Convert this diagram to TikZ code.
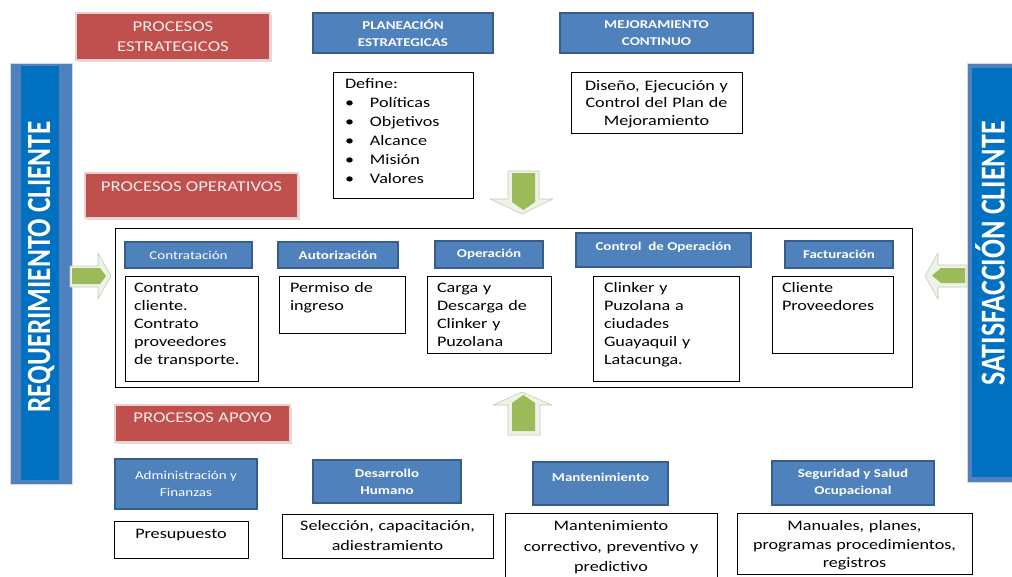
\documentclass[tikz,border=0pt]{standalone}
\usepackage{fontspec}
\setmainfont{Carlito}[FakeStretch=1.25]
\newfontfamily\barfont{Carlito}[FakeStretch=0.8]
\usetikzlibrary{shadows}

\definecolor{rojoproc}{HTML}{C0504D}
\definecolor{rojoborde}{HTML}{EBCFCE}
\definecolor{rojotexto}{HTML}{FBEAEA}
\definecolor{azulproc}{HTML}{4F81BD}
\definecolor{azulborde}{HTML}{385D8A}
\definecolor{azulbarra}{HTML}{0070C0}
\definecolor{verdeflecha}{HTML}{9BBB59}
\definecolor{verdeclaro}{HTML}{EEF2E7}
\definecolor{verdeborde}{HTML}{C5CCB8}

\begin{document}
\begin{tikzpicture}[x=1pt,y=-1pt,
    procrojo/.style={rectangle, fill=rojoproc, draw=rojoborde, line width=1.5pt, text=rojotexto, align=center,
      font=\fontsize{15}{20}\selectfont, drop shadow={shadow xshift=1.5pt, shadow yshift=-1.5pt, opacity=0.25}},
    procazul/.style={rectangle, fill=azulproc, draw=azulborde, line width=1.6pt, text=white, align=center,
      font=\bfseries\fontsize{12}{17}\selectfont, inner sep=2pt},
    cajatexto/.style={rectangle, draw=black, line width=0.9pt, fill=white, align=left,
      font=\fontsize{14.5}{18}\selectfont, inner xsep=10pt, inner ysep=5pt, text height=11pt},
    cajacentro/.style={cajatexto, align=center, inner xsep=5pt, inner ysep=6.5pt},
    flechaclara/.style={fill=verdeclaro, draw=verdeborde, line width=0.6pt, line join=round},
    flechaverde/.style={fill=verdeflecha},
    barraclara/.style={fill=azulproc, draw=black!15, line width=0.8pt},
    barraoscura/.style={fill=azulbarra},
    textobarra/.style={text=white, font=\barfont\bfseries\fontsize{34}{34}\selectfont, rotate=90, inner sep=0pt}
  ]
  \useasboundingbox (0,0) rectangle (1012,576);
  \fill[white] (0,0) rectangle (1012,576);
  \clip (0,0) rectangle (1012,576);

  % Barras laterales del cliente
  \filldraw[barraclara] (10,63) rectangle (72,484);
  \fill[barraoscura] (21,66) rectangle (59,480);
  \node[textobarra] (requerimiento) at (41,267) {REQUERIMIENTO CLIENTE};
  \filldraw[barraclara] (967,63) rectangle (1030,482);
  \fill[barraoscura] (972,68) rectangle (1020,477);
  \node[textobarra, font=\barfont\bfseries\fontsize{35}{35}\selectfont] (satisfaccion) at (990,253.5) {SATISFACCIÓN CLIENTE};

  % Flechas verdes
  \draw[flechaclara] (70,266) -- (98,266) -- (98,253) -- (111,276) -- (98,299) -- (98,287) -- (70,287) -- cycle;
  \fill[flechaverde] (72,268) -- (100,268) -- (106,276) -- (100,284) -- (72,284) -- cycle;
  \draw[flechaclara] (967,265) -- (938,265) -- (938,253) -- (925,276) -- (938,299) -- (938,287) -- (967,287) -- cycle;
  \fill[flechaverde] (965,268) -- (941,268) -- (932,275.5) -- (941,283) -- (965,283) -- cycle;
  \draw[flechaclara] (508,171) -- (539,171) -- (539,199) -- (553,199) -- (522,214) -- (490,199) -- (508,199) -- cycle;
  \fill[flechaverde] (512,173) -- (535,173) -- (535,202) -- (523.5,210) -- (512,202) -- cycle;
  \draw[flechaclara] (493,405) -- (522,392) -- (552,405) -- (540,405) -- (540,435) -- (508,435) -- (508,405) -- cycle;
  \fill[flechaverde] (512,431) -- (512,403) -- (523.5,395) -- (535,403) -- (535,431) -- cycle;

  % Procesos estrategicos
  \node[procrojo, minimum width=194pt, minimum height=47pt] (estrategicos) at (173,36.5) {PROCESOS\\ESTRATEGICOS};
  \node[procazul, minimum width=180pt, minimum height=40pt] (planeacion) at (403,33) {PLANEACIÓN\\ESTRATEGICAS};
  \node[procazul, minimum width=193pt, minimum height=40pt] (mejoramiento) at (656.5,33) {MEJORAMIENTO\\CONTINUO};
  \node[cajatexto, inner xsep=12pt, text width=116pt, text depth=105pt, font=\fontsize{14.5}{19}\selectfont] (define) at (403,135)
    {Define:\\
     \makebox[25pt][l]{\textbullet}Políticas\\
     \makebox[25pt][l]{\textbullet}Objetivos\\
     \makebox[25pt][l]{\textbullet}Alcance\\
     \makebox[25pt][l]{\textbullet}Misión\\
     \makebox[25pt][l]{\textbullet}Valores};
  \node[cajacentro, inner ysep=7pt, text width=161pt, text depth=36pt, font=\fontsize{14.5}{17.5}\selectfont] (diseno) at (656.5,102.5)
    {Diseño, Ejecución y\\Control del Plan de\\Mejoramiento};

  % Procesos operativos
  \node[procrojo, minimum width=213pt, minimum height=45pt, text height=10.5pt, text depth=18pt] (operativos) at (191.5,195.5) {PROCESOS OPERATIVOS};
  \node[draw=black, line width=1pt, minimum width=797pt, minimum height=159pt] (marcooperativo) at (513.5,307.5) {};
  \node[procazul, minimum width=127pt, minimum height=26pt, font=\fontsize{12}{17}\selectfont] (contratacion) at (188.5,255) {Contratación};
  \node[procazul, minimum width=120pt, minimum height=26pt] (autorizacion) at (338,255) {Autorización};
  \node[procazul, minimum width=108pt, minimum height=27pt] (operacion) at (489,254.5) {Operación};
  \node[procazul, minimum width=175pt, minimum height=34pt, text height=9pt, text depth=8pt] (control) at (663.5,250) {Control\ \ de Operación};
  \node[procazul, minimum width=108pt, minimum height=27pt] (facturacion) at (839,254.5) {Facturación};
  \node[cajatexto, inner xsep=9pt, text width=115pt, text depth=84pt] (contratotxt) at (191.5,328.5)
    {Contrato\\cliente.\\Contrato\\proveedores\\de transporte.};
  \node[cajatexto, inner xsep=11pt, text width=104pt, text depth=36pt] (permisotxt) at (342,304.5) {Permiso de\\ingreso};
  \node[cajatexto, text width=104pt, text depth=56pt] (cargatxt) at (489,314.5) {Carga y\\Descarga de\\Clinker y\\Puzolana};
  \node[cajatexto, inner xsep=11pt, text width=124pt, text depth=84pt] (clinkertxt) at (666,328.5)
    {Clinker y\\Puzolana a\\ciudades\\Guayaquil y\\Latacunga.};
  \node[cajatexto, text width=101pt, text depth=56pt] (clientetxt) at (832.5,314.5) {Cliente\\Proveedores};

  % Procesos de apoyo
  \node[procrojo, minimum width=175pt, minimum height=37pt, text height=10.5pt, text depth=12pt] (apoyo) at (202.5,423.5) {PROCESOS APOYO};
  \node[procazul, minimum width=142pt, minimum height=50pt, font=\fontsize{12}{17}\selectfont] (administracion) at (186,484) {Administración y\\Finanzas};
  \node[procazul, minimum width=148pt, minimum height=43pt] (desarrollo) at (387,481.5) {Desarrollo\\Humano};
  \node[procazul, minimum width=135pt, minimum height=43pt, text height=9pt, text depth=13pt] (mantenimiento) at (600.5,483.5) {Mantenimiento};
  \node[procazul, minimum width=162pt, minimum height=44pt] (seguridad) at (853,483) {Seguridad y Salud\\Ocupacional};
  \node[cajacentro, text width=124pt, text depth=13pt] (presupuesto) at (181,539.5) {Presupuesto};
  \node[cajacentro, inner ysep=5.5pt, text width=201pt, text depth=22pt, font=\fontsize{14.5}{20}\selectfont] (seleccion) at (387.5,536)
    {Selección, capacitación,\\adiestramiento};
  \node[cajacentro, text width=202pt, text depth=41pt, font=\fontsize{14.5}{20.5}\selectfont] (manttxt) at (611,545.5)
    {Mantenimiento\\correctivo, preventivo y\\predictivo};
  \node[cajacentro, text width=225pt, text depth=37pt, font=\fontsize{14.5}{18.5}\selectfont] (manuales) at (854.5,543.5)
    {Manuales, planes,\\programas procedimientos,\\registros};
\end{tikzpicture}
\end{document}
